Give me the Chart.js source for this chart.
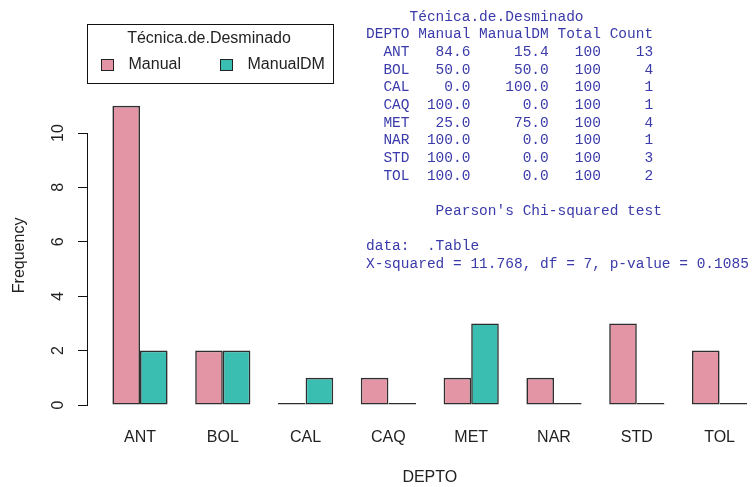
<!DOCTYPE html>
<html>
<head>
<meta charset="utf-8">
<script src="https://cdn.jsdelivr.net/npm/chart.js@4/dist/chart.umd.min.js"></script>
<style>
    body { margin: 0; background: #fff; }
    canvas { display: block; }
</style>
</head>
<body>
<canvas id="chart" width="754" height="487"></canvas>
<script>
// Data
const depts = ['ANT', 'BOL', 'CAL', 'CAQ', 'MET', 'NAR', 'STD', 'TOL'];
const manual = [11, 2, 0, 1, 1, 1, 3, 2];
const manualDM = [2, 2, 1, 0, 3, 0, 0, 0];
const seriesNames = ['Manual', 'ManualDM'];
const seriesColors = ['#E495A5', '#39BEB1'];
const yTicks = [0, 2, 4, 6, 8, 10];
const chiText = ['data:  .Table', 'X-squared = 11.768, df = 7, p-value = 0.1085'];

// R barplot puts each group on 3 units: two bars plus one unit of space
const groupCenter = i => 3 * i + 2;

const sans = '"Liberation Sans", Arial, sans-serif';
const mono = '"Liberation Mono", "Courier New", monospace';

const overlay = {
    id: 'overlay',
    afterDraw(chart) {
        const ctx = chart.ctx;
        const xs = chart.scales.x;
        const ys = chart.scales.y;
        ctx.save();
        ctx.fillStyle = '#222';
        ctx.font = '16px ' + sans;
        ctx.textAlign = 'center';
        ctx.textBaseline = 'middle';

        // rotated y tick labels
        yTicks.forEach(v => {
            ctx.save();
            ctx.translate(59, ys.getPixelForValue(v));
            ctx.rotate(-Math.PI / 2);
            ctx.fillText(String(v), 0, 0);
            ctx.restore();
        });

        // category labels under each group
        depts.forEach((d, i) => {
            ctx.fillText(d, xs.getPixelForValue(groupCenter(i)), 438);
        });

        // axis titles
        ctx.fillText('DEPTO', xs.getPixelForValue(12.5), 478);
        ctx.save();
        ctx.translate(20, ys.getPixelForValue(5.5));
        ctx.rotate(-Math.PI / 2);
        ctx.fillText('Frequency', 0, 0);
        ctx.restore();

        // legend box
        ctx.strokeStyle = '#111';
        ctx.lineWidth = 1;
        ctx.strokeRect(87.5, 24.5, 246, 59);
        ctx.fillText('Técnica.de.Desminado', 209, 39);
        const keyX = [101.5, 220.5];
        chart.data.datasets.forEach((ds, i) => {
            ctx.fillStyle = ds.backgroundColor;
            ctx.fillRect(keyX[i], 59.5, 12, 11);
            ctx.strokeStyle = '#222';
            ctx.strokeRect(keyX[i], 59.5, 12, 11);
            ctx.fillStyle = '#222';
            ctx.textAlign = 'left';
            ctx.fillText(ds.label, keyX[i] + 27, 65);
        });

        // console output block
        const lines = ['     Técnica.de.Desminado', 'DEPTO Manual ManualDM Total Count'];
        depts.forEach((d, i) => {
            const n = manual[i] + manualDM[i];
            lines.push(d.padStart(5) + ' ' +
                (manual[i] / n * 100).toFixed(1).padStart(6) + ' ' +
                (manualDM[i] / n * 100).toFixed(1).padStart(8) + ' ' +
                '100'.padStart(5) + ' ' +
                String(n).padStart(5));
        });
        lines.push('', "        Pearson's Chi-squared test", '');
        chiText.forEach(t => lines.push(t));

        ctx.font = '14.5px ' + mono;
        ctx.fillStyle = '#3a3aaa';
        ctx.textAlign = 'left';
        lines.forEach((t, k) => {
            ctx.fillText(t, 366, 16.7 + k * 17.68);
        });
        ctx.restore();
    }
};

new Chart(document.getElementById('chart'), {
    type: 'bar',
    data: {
        datasets: [
            {
                label: seriesNames[0],
                data: manual.map((v, i) => ({ x: groupCenter(i), y: v })),
                backgroundColor: seriesColors[0]
            },
            {
                label: seriesNames[1],
                data: manualDM.map((v, i) => ({ x: groupCenter(i), y: v })),
                backgroundColor: seriesColors[1]
            }
        ]
    },
    options: {
        responsive: false,
        animation: false,
        devicePixelRatio: 1,
        layout: { padding: { left: 0, top: 133, right: 1, bottom: 82 } },
        datasets: {
            bar: {
                borderColor: '#2e2e2e',
                borderWidth: 1.6,
                borderSkipped: false,
                categoryPercentage: 2 / 3,
                barPercentage: 1,
                minBarLength: 2,
                clip: false
            }
        },
        scales: {
            x: {
                type: 'linear',
                display: false,
                offset: false,
                grid: { offset: false },
                min: 0.08,
                max: 24.21,
                afterBuildTicks: scale => {
                    scale.ticks = depts.map((d, i) => ({ value: groupCenter(i) }));
                }
            },
            y: {
                min: 0,
                max: 10,
                ticks: { display: false, stepSize: 2 },
                grid: { drawOnChartArea: false, tickLength: 9, color: '#111', lineWidth: 1 },
                border: { color: '#111', width: 1 },
                afterFit: scale => { scale.width = 87; }
            }
        },
        plugins: {
            legend: { display: false },
            tooltip: { enabled: false }
        }
    },
    plugins: [overlay]
});
</script>
</body>
</html>
